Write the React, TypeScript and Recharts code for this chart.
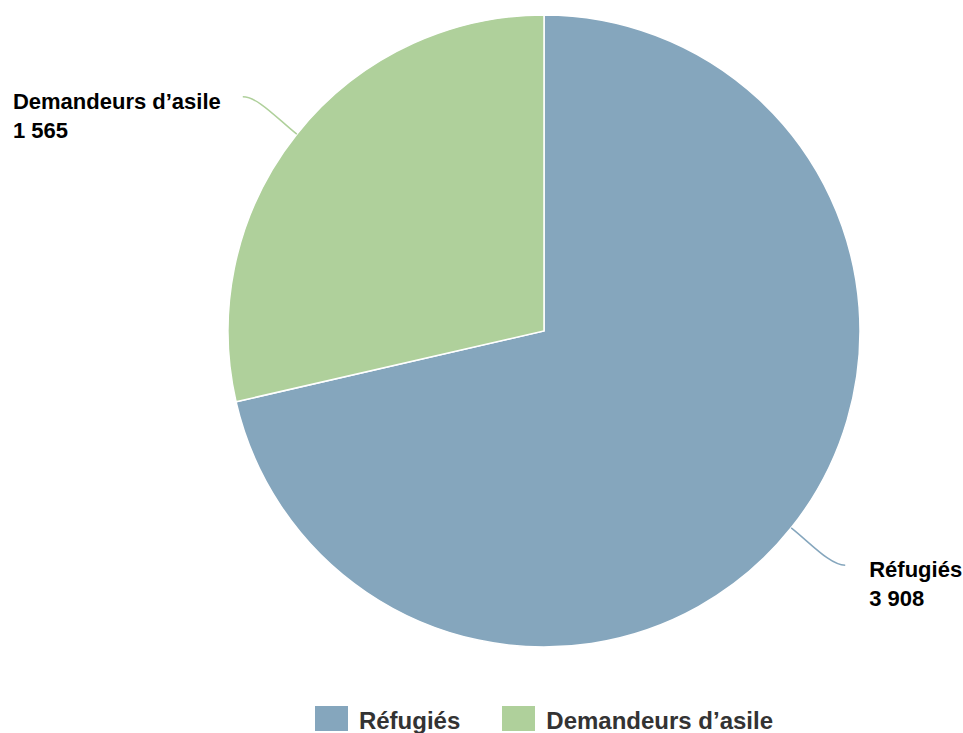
import { PieChart, Pie, Cell, Legend } from 'recharts'

const categories = ['Réfugiés', 'Demandeurs d’asile']
const values = [3908, 1565]
const colors = ['#85a6bd', '#afd09b']

const data = categories.map((name, i) => ({ name, value: values[i] }))

const RADIAN = Math.PI / 180
const FONT = 'Liberation Sans, Arial, sans-serif'

const fmt = (v: number) => String(v).replace(/\B(?=(\d{3})+(?!\d))/g, ' ')

// measure label width so the left label block can be left-aligned internally
let ctx: CanvasRenderingContext2D | null = null
function textWidth(s: string) {
  if (!ctx) ctx = document.createElement('canvas').getContext('2d')
  if (!ctx) return s.length * 11
  ctx.font = `bold 22px ${FONT}`
  return ctx.measureText(s).width
}

function renderLabel(props: any) {
  const { cx, cy, midAngle, outerRadius, name, value, index } = props
  const cos = Math.cos(-midAngle * RADIAN)
  const sin = Math.sin(-midAngle * RADIAN)
  const sign = cos >= 0 ? 1 : -1
  const x0 = cx + outerRadius * cos
  const y0 = cy + outerRadius * sin
  const ex = x0 + sign * 54
  const ey = cy + (outerRadius + 60) * sin
  const label2 = fmt(value)
  const w = Math.max(textWidth(name), textWidth(label2))
  const tx = sign > 0 ? ex + 24 : ex - 22 - w
  const path = `M${x0},${y0} C${x0 + cos * 25},${y0 + sin * 25} ${ex - sign * 15},${ey} ${ex},${ey}`
  return (
    <g>
      <path d={path} stroke={colors[index]} strokeWidth={1.5} fill="none" />
      <text x={tx} y={ey + 12} textAnchor="start" fontFamily={FONT} fontWeight="bold" fontSize={22} fill="#000">
        <tspan x={tx} dy={0}>{name}</tspan>
        <tspan x={tx} dy={29}>{label2}</tspan>
      </text>
    </g>
  )
}

function renderLegend() {
  return (
    <div
      style={{
        display: 'flex',
        justifyContent: 'center',
        alignItems: 'center',
        height: 25,
        paddingLeft: 125,
        fontFamily: FONT,
        fontWeight: 'bold',
        fontSize: 24,
        color: '#333',
      }}
    >
      {categories.map((c, i) => (
        <div key={c} style={{ display: 'flex', alignItems: 'center', marginLeft: i > 0 ? 42 : 0 }}>
          <span style={{ display: 'inline-block', width: 33, height: 25, background: colors[i], marginRight: 11 }} />
          <span style={{ lineHeight: '25px', position: 'relative', top: 2 }}>{c}</span>
        </div>
      ))}
    </div>
  )
}

export default function App() {
  return (
    <div style={{ position: 'absolute', left: 0, top: 0, width: 963, height: 733, background: '#fff' }}>
      <PieChart width={963} height={733} margin={{ top: 0, right: 0, bottom: 0, left: 0 }}>
        <Pie
          data={data}
          dataKey="value"
          nameKey="name"
          cx={544}
          cy={331}
          outerRadius={316}
          startAngle={90}
          endAngle={-270}
          stroke="#fff"
          strokeWidth={1.5}
          label={renderLabel}
          labelLine={false}
          isAnimationActive={false}
        >
          {data.map((d, i) => (
            <Cell key={d.name} fill={colors[i]} />
          ))}
        </Pie>
        <Legend
          content={renderLegend}
          wrapperStyle={{ position: 'absolute', left: 0, top: 706, width: 963, boxSizing: 'border-box' }}
        />
      </PieChart>
    </div>
  )
}
